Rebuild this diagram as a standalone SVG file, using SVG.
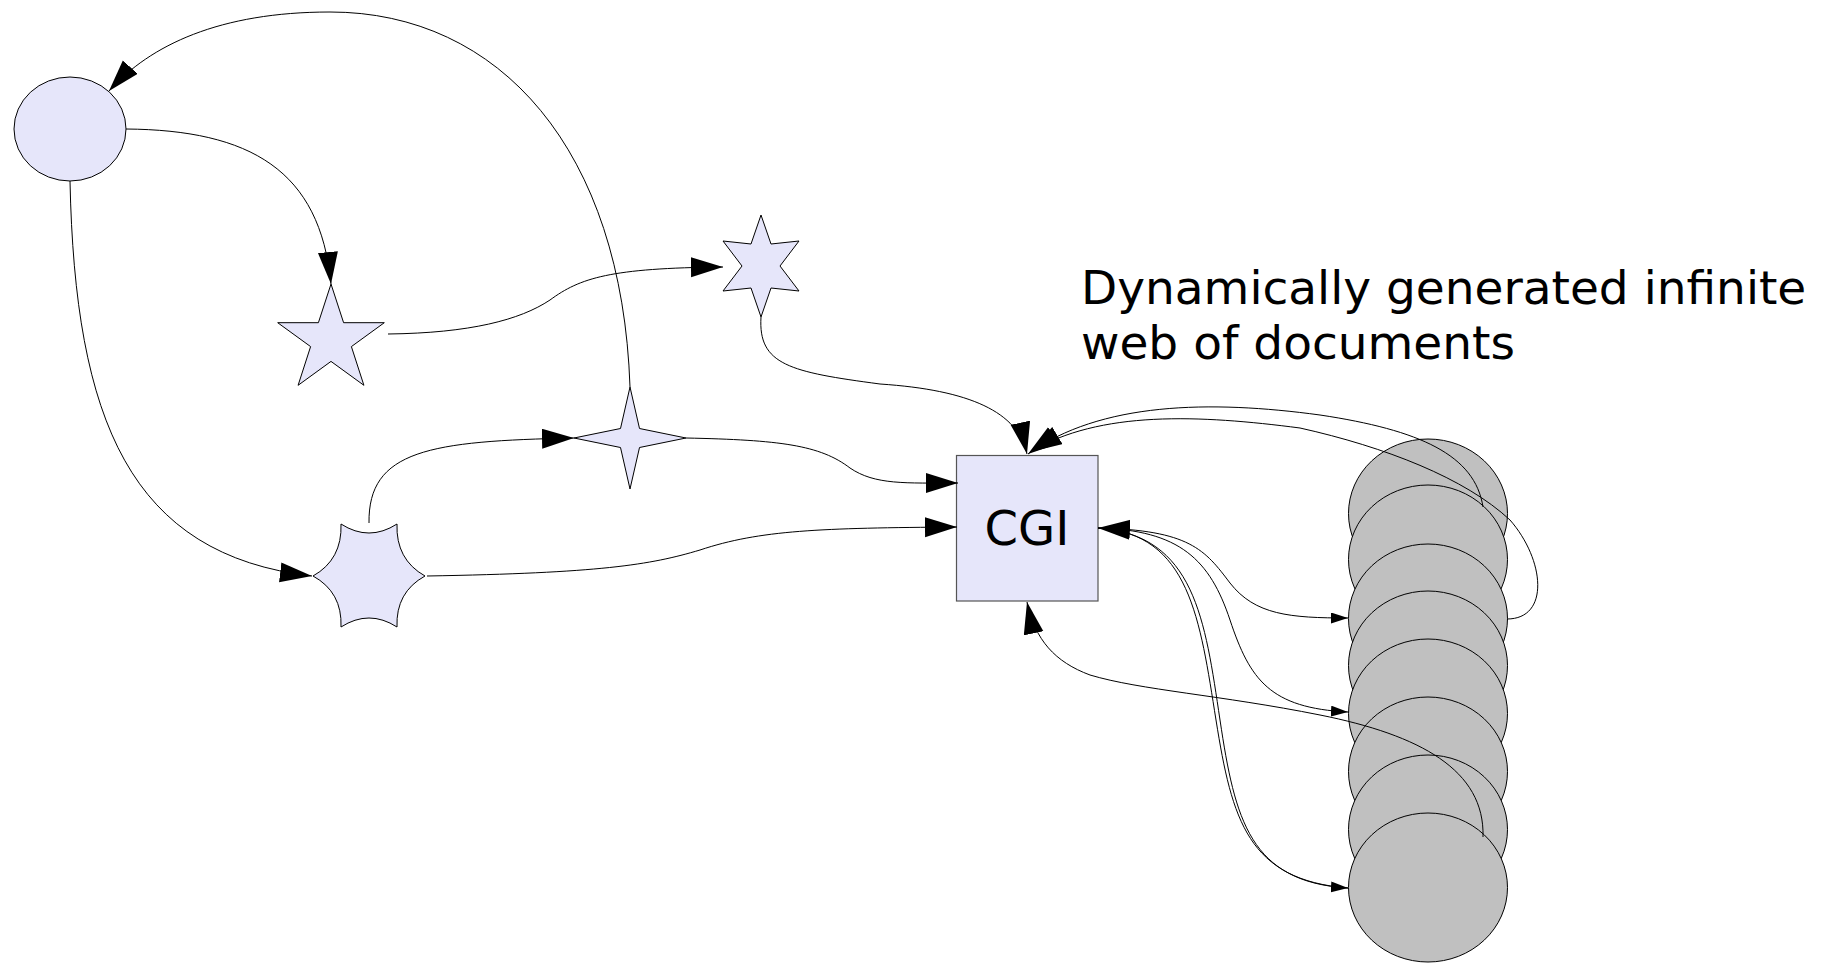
<svg xmlns="http://www.w3.org/2000/svg" width="1832" height="963" viewBox="0 0 1832 963">
  <style>
    .shape { fill: #e6e6fa; stroke: #000; stroke-width: 1; }
    .doc { fill: #c0c0c0; stroke: #000; stroke-width: 1; }
    .box { fill: #e6e6fa; stroke: #555; stroke-width: 1.2; }
    .link { fill: none; stroke: #000; stroke-width: 1; }
    .big { marker-end: url(#headBig); }
    .small { marker-end: url(#headSmall); }
    .label { font-family: "DejaVu Sans", "Liberation Sans", sans-serif; font-size: 48px; fill: #000; }
    .caption { font-size: 47px; }
  </style>
  <defs>
    <marker id="headBig" markerUnits="userSpaceOnUse" markerWidth="34" markerHeight="22" refX="32" refY="10" orient="auto">
      <path d="M0,0 L32,10 L0,20 z" fill="#000"/>
    </marker>
    <marker id="headSmall" markerUnits="userSpaceOnUse" markerWidth="19" markerHeight="13" refX="17" refY="5.5" orient="auto">
      <path d="M0,0 L17,5.5 L0,11 z" fill="#000"/>
    </marker>
  </defs>

  <rect width="1832" height="963" fill="#fff"/>

  <!-- start page -->
  <g id="start">
    <ellipse class="shape" cx="70" cy="129" rx="56" ry="52"/>
  </g>

  <!-- five-pointed star -->
  <g id="star5">
    <polygon class="shape" points="331,284 343.6,322.7 384.3,322.7 351.4,346.6 363.9,385.3 331,361.4 298.1,385.3 310.6,346.6 277.7,322.7 318.4,322.7"/>
  </g>

  <!-- six-pointed star -->
  <g id="star6">
    <polygon class="shape" points="761,215 771,244 799,241 780,266 799,291 771,288 761,317 751,288 723,291 742,266 723,241 751,244"/>
  </g>

  <!-- four-pointed star -->
  <g id="star4">
    <polygon class="shape" points="630,387 639.5,428.5 686,438 639.5,447.5 630,489 620.5,447.5 574,438 620.5,428.5"/>
  </g>

  <!-- concave hexagon -->
  <g id="hexstar">
    <path class="shape" d="M341,524 Q369,542 397,524 Q395.7,559.5 425,576 Q395.6,592.2 397,627 Q369,609 341,627 Q342.4,592.2 313,576 Q342.3,559.5 341,524 z"/>
  </g>

  <!-- CGI -->
  <g id="cgi">
    <rect class="box" x="956.5" y="455.5" width="141.5" height="145.5"/>
    <text class="label" x="1027" y="545" text-anchor="middle">CGI</text>
  </g>

  <!-- generated documents, each one drawn over the previous -->
  <g id="docs">
    <ellipse id="doc1" class="doc" cx="1428" cy="513.5" rx="79.5" ry="74.5"/>
    <ellipse id="doc2" class="doc" cx="1428" cy="559.5" rx="79.5" ry="74.5"/>
    <ellipse id="doc3" class="doc" cx="1428" cy="618.5" rx="79.5" ry="74.5"/>
    <ellipse id="doc4" class="doc" cx="1428" cy="665.5" rx="79.5" ry="74.5"/>
    <ellipse id="doc5" class="doc" cx="1428" cy="713.5" rx="79.5" ry="74.5"/>
    <ellipse id="doc6" class="doc" cx="1428" cy="771.5" rx="79.5" ry="74.5"/>
    <ellipse id="doc7" class="doc" cx="1428" cy="829.5" rx="79.5" ry="74.5"/>
    <ellipse id="doc8" class="doc" cx="1428" cy="887.5" rx="79.5" ry="74.5"/>
  </g>

  <g id="caption">
    <text class="label caption" x="1081" y="304">Dynamically generated infinite</text>
    <text class="label caption" x="1081" y="359">web of documents</text>
  </g>

  <g id="connectors">
    <!-- start page to five-pointed star -->
    <path class="link big" d="M126,129 C250,130 320,170 331,284"/>
    <!-- start page to concave hexagon -->
    <path class="link big" d="M70,181 C75,420 130,555 312,576"/>
    <!-- five-pointed star to six-pointed star -->
    <path class="link big" d="M388,334 C470,333 520,320 550,300 C580,278 610,268 723,267"/>
    <!-- six-pointed star to CGI -->
    <path class="link big" d="M761,317 C758,365 790,372 880,384 C970,390 1018,412 1027,454"/>
    <!-- four-pointed star back to start page -->
    <path class="link big" d="M630,387 C622,150 500,12 330,12 C220,12 150,45 109,91"/>
    <!-- concave hexagon to four-pointed star -->
    <path class="link big" d="M369,523 C368,450 430,441 574,438"/>
    <!-- four-pointed star to CGI -->
    <path class="link big" d="M686,438 C780,440 820,445 850,468 C875,485 905,483 958,483"/>
    <!-- concave hexagon to CGI -->
    <path class="link big" d="M427,576 C600,573 650,565 700,550 C760,530 820,528 957,527"/>
    <!-- CGI to documents -->
    <path class="link small" d="M1098,528 C1190,530 1205,550 1230,583 C1255,615 1290,618 1348,618"/>
    <path class="link small" d="M1098,528 C1180,530 1210,560 1230,620 C1250,680 1270,708 1348,712"/>
    <path class="link small" d="M1098,528 C1195,535 1205,620 1220,720 C1235,820 1250,882 1348,888"/>
    <!-- documents back to CGI -->
    <path class="link big" d="M1348,888 C1248,880 1232,820 1216,720 C1200,620 1190,533 1098,528"/>
    <path class="link big" d="M1483,507 C1475,455 1420,430 1320,415 C1210,400 1100,402 1028,454"/>
    <path class="link big" d="M1507,619 C1550,619 1545,560 1510,520 C1465,478 1385,447 1300,428 C1200,415 1100,410 1030,452"/>
    <path class="link big" d="M1483,837 C1485,770 1420,735 1320,715 C1220,695 1140,690 1090,675 C1055,662 1035,640 1027,602"/>
  </g>
</svg>
